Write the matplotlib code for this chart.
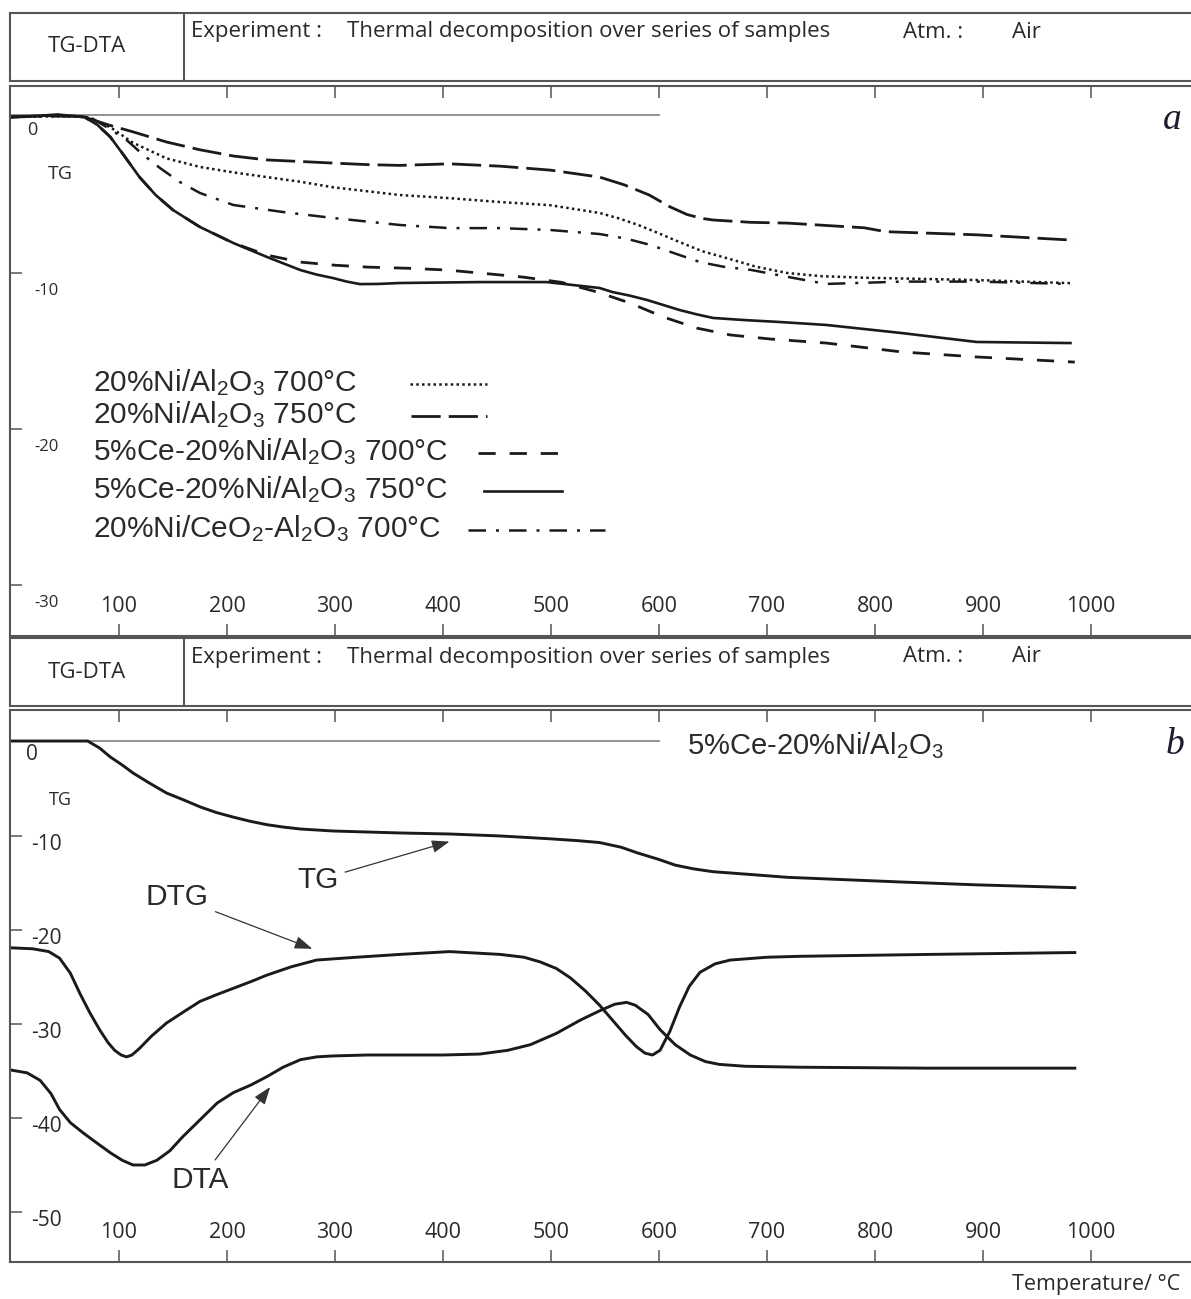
import matplotlib.pyplot as plt
from matplotlib import transforms
from matplotlib.lines import Line2D

plt.rcParams['mathtext.fontset'] = 'custom'
plt.rcParams['mathtext.rm'] = 'Liberation Sans'

W, H = 1191, 1299

# ---------------- data (temperature in degC, signal in %) ----------------
x_ticks = [100, 200, 300, 400, 500, 600, 700, 800, 900, 1000]
ya_ticks = [-10, -20, -30]
yb_ticks = [-10, -20, -30, -40, -50]

# panel a: TG curves
t_ni700 = [0, 45, 70, 92, 113, 144, 175, 206, 237, 268, 298, 360, 406, 453, 499, 545, 563, 580, 598, 615, 640, 668, 690, 719, 750, 790, 894, 981]
tg_ni700 = [0, 0.05, 0, -0.65, -1.65, -2.65, -3.2, -3.55, -3.85, -4.15, -4.5, -5.0, -5.2, -5.45, -5.65, -6.15, -6.5, -6.9, -7.4, -7.9, -8.6, -9.15, -9.6, -10.0, -10.2, -10.3, -10.45, -10.65]

t_ni750 = [0, 45, 68, 90, 113, 144, 175, 206, 237, 268, 298, 330, 360, 406, 453, 499, 545, 568, 591, 610, 626, 640, 650, 685, 719, 790, 810, 894, 985]
tg_ni750 = [0, 0.1, 0, -0.5, -0.95, -1.6, -2.1, -2.5, -2.75, -2.85, -2.95, -3.05, -3.1, -3.0, -3.15, -3.4, -3.85, -4.35, -5.0, -5.75, -6.25, -6.5, -6.6, -6.75, -6.8, -7.1, -7.35, -7.55, -7.9]

t_ce700 = [0, 45, 68, 80, 92, 105, 119, 134, 150, 175, 206, 237, 268, 300, 330, 370, 404, 434, 474, 510, 543, 573, 604, 635, 666, 703, 755, 825, 894, 985]
tg_ce700 = [0, 0.15, 0, -0.5, -1.28, -2.5, -3.85, -5.0, -5.96, -7.05, -8.08, -8.85, -9.3, -9.5, -9.62, -9.7, -9.81, -10.0, -10.26, -10.6, -11.22, -11.92, -12.82, -13.53, -13.97, -14.23, -14.49, -15.06, -15.38, -15.71]

t_ce750 = [0, 45, 68, 80, 92, 105, 119, 134, 150, 175, 206, 237, 268, 283, 298, 311, 323, 340, 360, 434, 496, 545, 557, 573, 589, 604, 619, 635, 650, 680, 712, 755, 825, 894, 981]
tg_ce750 = [0, 0.15, 0, -0.5, -1.28, -2.5, -3.85, -5.0, -5.96, -7.05, -8.08, -8.97, -9.81, -10.1, -10.32, -10.55, -10.71, -10.7, -10.64, -10.58, -10.58, -10.96, -11.22, -11.45, -11.73, -12.05, -12.37, -12.65, -12.88, -13.02, -13.14, -13.33, -13.85, -14.42, -14.49]

t_ceo2 = [0, 45, 73, 90, 107, 122, 138, 156, 175, 206, 252, 298, 360, 406, 453, 499, 545, 570, 592, 615, 638, 660, 685, 731, 755, 825, 894, 981]
tg_ceo2 = [0, 0.05, 0, -0.7, -1.47, -2.4, -3.27, -4.15, -4.87, -5.64, -6.09, -6.47, -6.92, -7.12, -7.12, -7.24, -7.5, -7.8, -8.2, -8.75, -9.3, -9.6, -9.8, -10.4, -10.7, -10.55, -10.55, -10.7]

labels_a = [
    r'20%Ni/Al$\mathregular{_2}$O$\mathregular{_3}$ 700°C',
    r'20%Ni/Al$\mathregular{_2}$O$\mathregular{_3}$ 750°C',
    r'5%Ce-20%Ni/Al$\mathregular{_2}$O$\mathregular{_3}$ 700°C',
    r'5%Ce-20%Ni/Al$\mathregular{_2}$O$\mathregular{_3}$ 750°C',
    r'20%Ni/CeO$\mathregular{_2}$-Al$\mathregular{_2}$O$\mathregular{_3}$ 700°C',
]

# panel b: 5%Ce-20%Ni/Al2O3
t_tg = [0, 71, 82, 92, 103, 113, 128, 144, 160, 175, 190, 206, 222, 237, 252, 268, 298, 360, 406, 453, 499, 525, 545, 565, 580, 600, 615, 632, 650, 685, 719, 825, 894, 985]
tg_b = [0.1, 0.1, -0.64, -1.6, -2.45, -3.3, -4.36, -5.43, -6.17, -6.9, -7.5, -8.0, -8.45, -8.8, -9.05, -9.26, -9.47, -9.68, -9.79, -10.0, -10.3, -10.5, -10.7, -11.2, -11.8, -12.5, -13.1, -13.5, -13.8, -14.1, -14.4, -14.9, -15.2, -15.5]

t_dtg = [0, 20, 35, 45, 55, 64, 73, 82, 90, 96, 102, 107, 112, 119, 130, 144, 160, 175, 190, 206, 222, 237, 260, 283, 320, 360, 406, 453, 475, 490, 505, 518, 532, 545, 557, 569, 579, 587, 594, 601, 610, 619, 628, 638, 652, 666, 700, 731, 850, 985]
dtg_b = [-21.9, -22.0, -22.3, -23.0, -24.6, -26.8, -28.8, -30.6, -32.0, -32.8, -33.3, -33.5, -33.3, -32.6, -31.3, -29.9, -28.7, -27.6, -26.9, -26.2, -25.5, -24.8, -23.9, -23.2, -22.9, -22.6, -22.3, -22.6, -22.9, -23.4, -24.1, -25.1, -26.5, -28.0, -29.6, -31.2, -32.4, -33.1, -33.3, -32.8, -30.8, -28.2, -26.0, -24.5, -23.6, -23.2, -22.9, -22.8, -22.6, -22.4]

t_dta = [0, 15, 27, 37, 45, 55, 67, 80, 92, 103, 113, 124, 135, 147, 159, 175, 191, 206, 222, 237, 252, 268, 283, 298, 330, 360, 400, 434, 460, 481, 505, 527, 545, 559, 570, 578, 590, 601, 615, 629, 643, 656, 680, 731, 850, 985]
dta_b = [-34.9, -35.2, -36.0, -37.4, -39.1, -40.5, -41.6, -42.7, -43.7, -44.5, -45.0, -45.0, -44.5, -43.5, -42.0, -40.2, -38.4, -37.3, -36.5, -35.6, -34.6, -33.8, -33.5, -33.4, -33.3, -33.3, -33.3, -33.2, -32.8, -32.2, -31.0, -29.6, -28.6, -27.9, -27.7, -28.0, -29.0, -30.6, -32.2, -33.3, -34.0, -34.3, -34.5, -34.6, -34.7, -34.7]

# line styles
st_ni700 = dict(lw=1.8, ls=(0, (1.0, 1.3)), color='#1a1a1a')
st_ni750 = dict(lw=2.0, ls=(0, (10.5, 2.9)), color='#1a1a1a')
st_ce700 = dict(lw=2.0, ls=(0, (6.2, 5.0)), color='#1a1a1a')
st_ce750 = dict(lw=1.9, ls='-', color='#1a1a1a')
st_ceo2 = dict(lw=1.8, ls=(0, (7, 4, 1.2, 4)), color='#1a1a1a')

frame_c = '#555555'
text_c = '#2a2a2a'
hdr_font = 'Open Sans'
lab_font = 'Liberation Sans'

fig = plt.figure(figsize=(W / 100, H / 100), dpi=100)
px = transforms.Affine2D().scale(1 / W, -1 / H).translate(0, 1) + fig.transFigure


def rect(x0, y0, x1, y1):
    return [x0 / W, 1 - y1 / H, (x1 - x0) / W, (y1 - y0) / H]


def header(y0, y1):
    hx = fig.add_axes(rect(10, y0, W, y1))
    hx.set_xlim(10, W)
    hx.set_ylim(y1, y0)
    hx.set_xticks([])
    hx.set_yticks([])
    for s in ['left', 'top', 'bottom']:
        hx.spines[s].set_color(frame_c)
        hx.spines[s].set_linewidth(1.5)
    hx.spines['right'].set_visible(False)
    hx.plot([184, 184], [y0, y1], color=frame_c, lw=1.5)
    ym = (y0 + y1) / 2
    yt = y0 + 19
    kw = dict(fontsize=16, family=hdr_font, color=text_c, va='center')
    hx.text(87, ym, 'TG-DTA', ha='center', **kw)
    hx.text(191, yt, 'Experiment :', ha='left', **kw)
    hx.text(347, yt, 'Thermal decomposition over series of samples', ha='left', **kw)
    hx.text(903, yt, 'Atm. :', ha='left', **kw)
    hx.text(1012, yt, 'Air', ha='left', **kw)


def panel(y0, y1, ylim, yticks, ylab_size, ylab_dy):
    ax = fig.add_axes(rect(10, y0, W, y1))
    ax.set_xlim(-0.9, 1092.6)
    ax.set_ylim(*ylim)
    for s in ['left', 'top', 'bottom']:
        ax.spines[s].set_color(frame_c)
        ax.spines[s].set_linewidth(1.5)
    ax.spines['right'].set_visible(False)
    ax.set_xticks(x_ticks)
    ax.set_xticklabels([str(t) for t in x_ticks], family=hdr_font, fontsize=15.5, color=text_c)
    ax.tick_params(axis='x', direction='in', length=8.6, width=1.1, color=frame_c,
                   top=True, bottom=True, pad=-29)
    ax.set_yticks(yticks)
    ax.set_yticklabels([])
    ax.tick_params(axis='y', direction='in', length=8.6, width=1.1, color=frame_c,
                   left=True, right=False)
    tr = transforms.blended_transform_factory(ax.transAxes, ax.transData) + \
        transforms.ScaledTranslation(0, -ylab_dy / 100, fig.dpi_scale_trans)
    for v in yticks:
        ax.text(0.031, v, str(v), transform=tr, ha='center', va='center',
                family=hdr_font, fontsize=ylab_size, color=text_c)
    return ax


# ---------------- panel a ----------------
header(13, 81)
ax_a = panel(86, 636, (-33.27, 1.99), ya_ticks, 12, 18)
ax_a.plot([0, 600], [0.13, 0.13], color='#8a8a8a', lw=1.3)
series_a = [(t_ni700, tg_ni700, st_ni700), (t_ni750, tg_ni750, st_ni750),
            (t_ce700, tg_ce700, st_ce700), (t_ce750, tg_ce750, st_ce750),
            (t_ceo2, tg_ceo2, st_ceo2)]
for t, v, st in series_a:
    ax_a.plot(t, v, **st)

fig.text(32, 130, '0', transform=px, ha='center', va='center', family=hdr_font, fontsize=13, color=text_c)
fig.text(60, 174, 'TG', transform=px, ha='center', va='center', family=hdr_font, fontsize=14, color=text_c)
fig.text(1172, 120, 'a', transform=px, ha='center', va='center', family='Liberation Serif',
         style='italic', fontsize=27, color='#1c1c30')

# legend (text left, line sample right)
leg_y = [383, 415, 452, 490, 529]
leg_x = [(410, 487), (411, 487), (478, 567), (484, 562), (468, 605)]
for lab, y, (xa, xb), (_, _, st) in zip(labels_a, leg_y, leg_x, series_a):
    fig.text(93, y, lab, transform=px, ha='left', va='center', family=lab_font,
             fontsize=21.5, color=text_c)
    fig.add_artist(Line2D([xa, xb], [y + 1, y + 1], transform=px, **st))

# ---------------- panel b ----------------
header(638, 706)
ax_b = panel(710, 1262, (-55.32, 3.40), yb_ticks, 15, 9)
ax_b.plot([0, 600], [0.1, 0.1], color='#8a8a8a', lw=1.3)
ax_b.plot(t_tg, tg_b, color='#1a1a1a', lw=2.1)
ax_b.plot(t_dtg, dtg_b, color='#1a1a1a', lw=2.1)
ax_b.plot(t_dta, dta_b, color='#1a1a1a', lw=2.1)

fig.text(32, 755, '0', transform=px, ha='center', va='center', family=hdr_font, fontsize=15, color=text_c)
fig.text(60, 800, 'TG', transform=px, ha='center', va='center', family=hdr_font, fontsize=13, color=text_c)
fig.text(1175, 745, 'b', transform=px, ha='center', va='center', family='Liberation Serif',
         style='italic', fontsize=27, color='#1c1c30')
fig.text(687, 746, r'5%Ce-20%Ni/Al$\mathregular{_2}$O$\mathregular{_3}$', transform=px,
         ha='left', va='center', family=lab_font, fontsize=21, color=text_c)

arrow = dict(arrowstyle='-|>,head_length=0.5,head_width=0.18', lw=0.9, color='#333333',
             shrinkA=3, shrinkB=0)
ann = dict(ha='center', va='center', family=lab_font, fontsize=21.5, color=text_c, arrowprops=arrow)
ax_b.annotate('TG', xy=(406, -10.6), xytext=(284, -14.7), **ann)
ax_b.annotate('DTG', xy=(279, -22.0), xytext=(154, -16.5), **ann)
ax_b.annotate('DTA', xy=(240, -36.7), xytext=(175, -46.6), **ann)

fig.text(1180, 1285, 'Temperature/ °C', transform=px, ha='right', va='center',
         family=hdr_font, fontsize=15.5, color=text_c)

fig.savefig('out.png', dpi=100, facecolor='white')
